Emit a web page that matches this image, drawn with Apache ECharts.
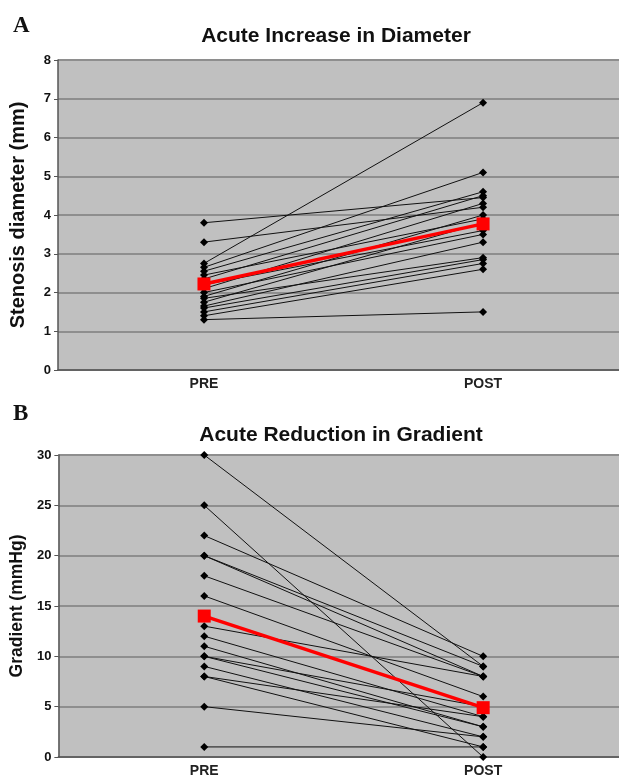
<!DOCTYPE html>
<html>
<head>
<meta charset="UTF-8">
<title>Acute Increase in Diameter / Acute Reduction in Gradient</title>
<style type="text/css">
    body,html{ margin:0; padding:0; width:619px; height:781px; overflow:hidden; background:#fff;}
    #chart{ width:619px; height:781px;}
</style>
</head>
<body>
<div id="chart"></div>
<script src="https://cdn.jsdelivr.net/npm/echarts@6/dist/echarts.min.js"></script>
<script type="text/javascript">
// x positions: PRE = 0, POST = 1
var catLabels = ['PRE', 'POST'];

// panel A - stenosis diameter (mm), one entry per patient
var diaPre  = [3.8, 3.3, 2.75, 2.65, 2.55, 2.45, 2.35, 2.2, 2.1, 2.0, 1.9, 1.85, 1.75, 1.65, 1.6, 1.5, 1.4, 1.3];
var diaPost = [4.45, 4.2, 6.9, 5.1, 4.6, 3.9, 4.5, 3.6, 4.3, 3.5, 4.0, 2.9, 3.8, 3.3, 2.85, 2.75, 2.6, 1.5];
var diaMean = [2.22, 3.77];

// panel B - gradient (mmHg)
var gradPre  = [30, 25, 22, 20, 20, 18, 16, 13, 12, 11, 10, 10, 9, 8, 8, 5, 1];
var gradPost = [9, 0, 10, 8, 9, 8, 6, 8, 4, 3, 5, 3, 2, 1, 4, 2, 1];
var gradMean = [14, 4.9];

var font = "'Liberation Sans', Arial, sans-serif";

function xAxisFor(idx) {
    return {
        type: 'value', gridIndex: idx,
        min: -0.523, max: 1.487,
        axisLine: { show: true, onZero: false, lineStyle: { color: '#555', width: 1.5 } },
        axisTick: { show: false },
        splitLine: { show: false },
        axisLabel: {
            customValues: [0, 1],
            formatter: function (v) { return catLabels[Math.round(v)]; },
            color: '#222', fontFamily: font, fontWeight: 'bold', fontSize: 14, margin: 7
        }
    };
}

function yAxisFor(idx, max, step, name, nameSize, gap) {
    return {
        type: 'value', gridIndex: idx,
        min: 0, max: max, interval: step,
        name: name, nameLocation: 'middle', nameGap: gap,
        nameTextStyle: { color: '#111', fontFamily: font, fontWeight: 'bold', fontSize: nameSize },
        axisLine: { show: true, onZero: false, lineStyle: { color: '#555', width: 1.5 } },
        axisTick: { show: true, length: 4, lineStyle: { color: '#555' } },
        splitLine: { show: true, lineStyle: { color: '#8e8e8e', width: 2 } },
        axisLabel: { color: '#111', fontFamily: font, fontWeight: 'bold', fontSize: 13, margin: 7 }
    };
}

function patientSeries(pre, post, idx) {
    return pre.map(function (p, i) {
        return {
            type: 'line', xAxisIndex: idx, yAxisIndex: idx,
            data: [[0, p], [1, post[i]]],
            symbol: 'diamond', symbolSize: 8,
            lineStyle: { color: '#111', width: 1 },
            itemStyle: { color: '#000' },
            z: 2, silent: true
        };
    });
}

function meanSeries(mean, idx) {
    return {
        type: 'line', xAxisIndex: idx, yAxisIndex: idx,
        data: [[0, mean[0]], [1, mean[1]]],
        symbol: 'rect', symbolSize: 13,
        lineStyle: { color: '#ff0000', width: 3.5 },
        itemStyle: { color: '#ff0000' },
        z: 5, silent: true
    };
}

var myChart = echarts.init(document.getElementById('chart'));

var option = {
    animation: false,
    title: [
        { text: 'A', left: 8, top: 10, textStyle: { fontFamily: "'Liberation Serif', serif", fontWeight: 'bold', fontSize: 23, color: '#111' } },
        { text: 'Acute Increase in Diameter', left: 331, top: 21, textAlign: 'center', textStyle: { fontFamily: font, fontWeight: 'bold', fontSize: 21, color: '#111' } },
        { text: 'B', left: 8, top: 398, textStyle: { fontFamily: "'Liberation Serif', serif", fontWeight: 'bold', fontSize: 23, color: '#111' } },
        { text: 'Acute Reduction in Gradient', left: 336, top: 420, textAlign: 'center', textStyle: { fontFamily: font, fontWeight: 'bold', fontSize: 21, color: '#111' } }
    ],
    grid: [
        { left: 58, top: 60, right: 0, height: 310, show: true, backgroundColor: '#c0c0c0', borderWidth: 0 },
        { left: 58, top: 455, right: 0, height: 302, show: true, backgroundColor: '#c0c0c0', borderWidth: 0 }
    ],
    xAxis: [xAxisFor(0), xAxisFor(1)],
    yAxis: [
        yAxisFor(0, 8, 1, 'Stenosis diameter (mm)', 20, 30),
        yAxisFor(1, 30, 5, 'Gradient (mmHg)', 17.5, 32)
    ],
    series: patientSeries(diaPre, diaPost, 0)
        .concat(patientSeries(gradPre, gradPost, 1))
        .concat([meanSeries(diaMean, 0), meanSeries(gradMean, 1)])
};

myChart.setOption(option);
</script>
</body>
</html>
